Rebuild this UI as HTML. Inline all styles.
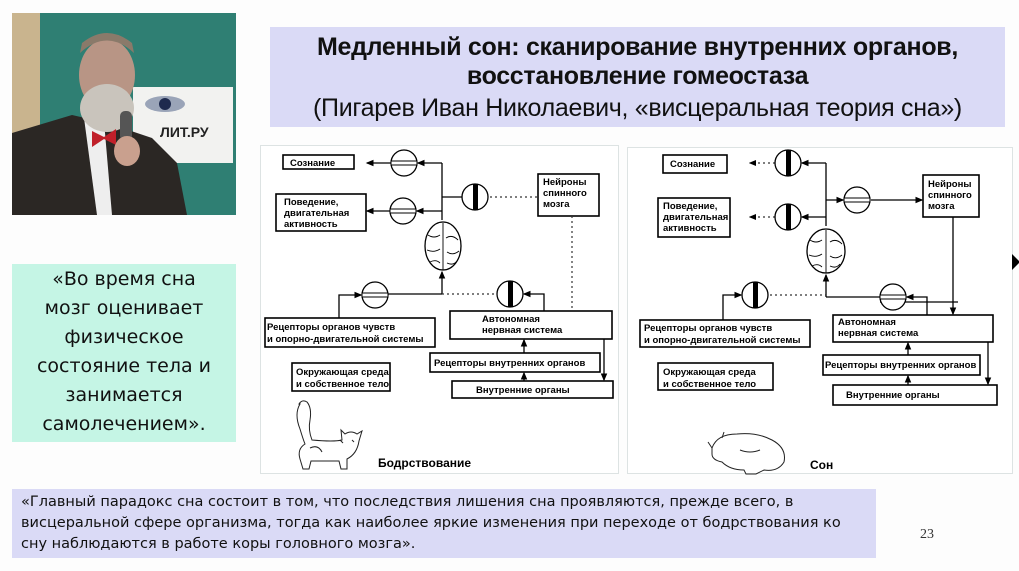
<!DOCTYPE html>
<html><head><meta charset="utf-8"><style>
body{margin:0;width:1019px;height:571px;background:#fff;position:relative;overflow:hidden;font-family:"Liberation Sans",sans-serif}
.a{position:absolute}
</style></head><body>
<div class="a" style="left:0;top:0;width:1019px;height:571px;background:#fdfdfd"></div>
<svg class="a" style="left:12px;top:13px" width="224" height="202">
<rect width="224" height="202" fill="#2f7f73"/>
<rect width="28" height="202" fill="#c9b48e"/>
<rect x="121" y="74" width="100" height="76" fill="#f2f2f0"/>
<ellipse cx="153" cy="91" rx="20" ry="8" fill="#9aa4b8"/><circle cx="153" cy="91" r="6" fill="#1e2a4e"/>
<text x="148" y="124" font-size="14" font-weight="bold" fill="#222">ЛИТ.РУ</text>
<path d="M0 120 L60 102 L95 110 L140 125 L165 150 L175 202 L0 202Z" fill="#2b2724"/>
<path d="M72 105 L92 108 L100 202 L85 202Z" fill="#eee"/>
<ellipse cx="95" cy="62" rx="28" ry="36" fill="#b89585"/>
<path d="M68 40 Q95 15 122 40 L120 30 Q95 10 70 30Z" fill="#8a7a6a"/>
<ellipse cx="95" cy="95" rx="27" ry="24" fill="#c9c4bc"/>
<path d="M80 118 L92 124 L104 116 L104 132 L92 126 L80 134Z" fill="#c0202a"/>
<rect x="108" y="98" width="12" height="30" rx="5" fill="#555"/>
<ellipse cx="115" cy="138" rx="13" ry="15" fill="#c9a08e"/>
</svg>
<div class="a" style="left:270px;top:27px;width:735px;height:100px;background:#dadaf6;text-align:center;color:#111">
<div style="font-weight:bold;font-size:25px;line-height:29px;margin-top:6px;letter-spacing:-0.3px">Медленный сон: сканирование внутренних органов,<br>восстановление гомеостаза</div>
<div style="font-size:25px;line-height:30px;margin-top:2px;letter-spacing:-0.3px">(Пигарев Иван Николаевич, «висцеральная теория сна»)</div>
</div>
<div class="a" style="left:12px;top:264px;width:224px;height:177px;background:#c5f5e5;text-align:center;font-family:'DejaVu Sans',sans-serif;font-size:19px;line-height:29px;color:#111;padding-top:1px">«Во время сна<br>мозг оценивает<br>физическое<br>состояние тела и<br>занимается<br>самолечением».</div>
<div class="a" style="left:12px;top:489px;width:864px;height:69px;background:#dadaf6;font-family:'DejaVu Sans',sans-serif;font-size:14.5px;line-height:21px;color:#111;padding:3px 0 0 9px;box-sizing:border-box">«Главный парадокс сна состоит в том, что последствия лишения сна проявляются, прежде всего, в<br>висцеральной сфере организма, тогда как наиболее яркие изменения при переходе от бодрствования ко<br>сну наблюдаются в работе коры головного мозга».</div>
<div class="a" style="left:920px;top:527px;font-family:'Liberation Serif',serif;font-size:14px;color:#333">23</div>
<svg class="a" style="left:0;top:0" width="1019" height="571" font-family="Liberation Sans" font-weight="bold" font-size="9.5">
<defs><marker id="ar" markerWidth="6" markerHeight="6" refX="5" refY="3" orient="auto"><path d="M0 0.5 L6 3 L0 5.5Z" fill="#000"/></marker></defs>
<rect x="260.5" y="145.5" width="358" height="328" fill="#fff" stroke="#dde3e3"/>
<rect x="627.5" y="147.5" width="385" height="326" fill="#fff" stroke="#dde3e3"/>
<g fill="#fff" stroke="#000" stroke-width="1.6">
<rect x="283" y="155" width="71" height="14"/><rect x="276" y="194" width="90" height="37"/>
<rect x="538" y="174" width="61" height="42"/><rect x="265" y="318" width="170" height="29"/>
<rect x="450" y="311" width="162" height="28"/><rect x="430" y="353" width="170" height="19"/>
<rect x="452" y="381" width="161" height="17"/><rect x="292" y="363" width="98" height="28"/>
<rect x="663" y="155" width="64" height="18"/><rect x="658" y="198" width="72" height="39"/>
<rect x="923" y="175" width="56" height="42"/><rect x="640" y="320" width="170" height="27"/>
<rect x="833" y="315" width="160" height="27"/><rect x="823" y="355" width="157" height="20"/>
<rect x="833" y="385" width="164" height="20"/><rect x="658" y="363" width="115" height="27"/>
</g>
<g fill="#000">
<text x="290" y="166">Сознание</text>
<text x="284" y="205">Поведение,</text><text x="284" y="216">двигательная</text><text x="284" y="227">активность</text>
<text x="543" y="185">Нейроны</text><text x="543" y="196">спинного</text><text x="543" y="207">мозга</text>
<text x="267" y="330">Рецепторы органов чувств</text><text x="267" y="342">и опорно-двигательной системы</text>
<text x="482" y="322">Автономная</text><text x="482" y="333">нервная система</text>
<text x="434" y="366">Рецепторы внутренних органов</text>
<text x="476" y="393">Внутренние органы</text>
<text x="296" y="375">Окружающая среда</text><text x="296" y="387">и собственное тело</text>
<text x="378" y="467" font-size="12">Бодрствование</text>
<text x="670" y="167">Сознание</text>
<text x="663" y="209">Поведение,</text><text x="663" y="220">двигательная</text><text x="663" y="231">активность</text>
<text x="928" y="187">Нейроны</text><text x="928" y="198">спинного</text><text x="928" y="209">мозга</text>
<text x="644" y="331">Рецепторы органов чувств</text><text x="644" y="343">и опорно-двигательной системы</text>
<text x="838" y="325">Автономная</text><text x="838" y="336">нервная система</text>
<text x="825" y="368">Рецепторы внутренних органов</text>
<text x="846" y="398">Внутренние органы</text>
<text x="663" y="375">Окружающая среда</text><text x="663" y="387">и собственное тело</text>
<text x="810" y="469" font-size="12">Сон</text>
</g>
<g fill="none" stroke="#000" stroke-width="1.3">
<path d="M442 163 H418" marker-end="url(#ar)"/><path d="M391 163 H367" marker-end="url(#ar)"/>
<path d="M442 163 V220"/><path d="M442 197 H462"/>
<path d="M442 211 H417" marker-end="url(#ar)"/><path d="M390 211 H367" marker-end="url(#ar)"/>
<path d="M442 294 V272" marker-end="url(#ar)"/><path d="M388 294 H442"/>
<path d="M339 318 V295 H361" marker-end="url(#ar)"/>
<path d="M544 311 V294 H524" marker-end="url(#ar)"/>
<path d="M604 339 V380" marker-end="url(#ar)"/>
<path d="M524 353 V340" marker-end="url(#ar)"/><path d="M524 381 V373" marker-end="url(#ar)"/>
<path d="M826 163 H802" marker-end="url(#ar)"/><path d="M826 163 V226"/>
<path d="M826 200 H843" marker-end="url(#ar)"/><path d="M871 200 H922" marker-end="url(#ar)"/>
<path d="M826 217 H802" marker-end="url(#ar)"/>
<path d="M826 297 V275" marker-end="url(#ar)"/><path d="M880 297 H826"/>
<path d="M927 315 V297 H907" marker-end="url(#ar)"/>
<path d="M880 302 H958"/><path d="M953 217 V314" marker-end="url(#ar)"/>
<path d="M723 320 V295 H741" marker-end="url(#ar)"/>
<path d="M988 342 V384" marker-end="url(#ar)"/>
<path d="M908 355 V343" marker-end="url(#ar)"/><path d="M908 385 V376" marker-end="url(#ar)"/>
</g>
<g fill="none" stroke="#333" stroke-width="1.2" stroke-dasharray="2,3">
<path d="M490 197 H538"/><path d="M572 216 V311"/><path d="M442 294 H497"/>
<path d="M775 163 H750" marker-end="url(#ar)"/><path d="M775 217 H750" marker-end="url(#ar)"/>
<path d="M770 295 H826"/>
</g>
<g stroke="#000" stroke-width="1.3" fill="#fff">
<circle cx="404" cy="163" r="13"/><circle cx="403" cy="211" r="13"/><circle cx="375" cy="295" r="13"/><circle cx="857" cy="200" r="13"/><circle cx="893" cy="297" r="13"/>
<circle cx="475" cy="197" r="13"/><circle cx="510" cy="294" r="13"/><circle cx="788" cy="163" r="13"/><circle cx="788" cy="217" r="13"/><circle cx="755" cy="295" r="13"/>
</g>
<g stroke="#000" stroke-width="1">
<rect x="391" y="161" width="26" height="4" fill="#fff"/><rect x="390" y="209" width="26" height="4" fill="#fff"/><rect x="362" y="293" width="26" height="4" fill="#fff"/><rect x="844" y="198" width="26" height="4" fill="#fff"/><rect x="880" y="295" width="26" height="4" fill="#fff"/>
</g>
<g fill="#000"><rect x="473" y="184" width="5" height="26"/><rect x="508" y="281" width="5" height="26"/><rect x="786" y="150" width="5" height="26"/><rect x="786" y="204" width="5" height="26"/><rect x="753" y="282" width="5" height="26"/></g>
<g fill="#fff" stroke="#000" stroke-width="1.3">
<ellipse cx="443" cy="246" rx="18" ry="24"/><ellipse cx="826" cy="251" rx="19" ry="22"/>
</g>
<g fill="none" stroke="#000" stroke-width="0.9">
<path d="M443 223 V270 M428 235 q6 4 12 0 M446 238 q6 -4 12 2 M427 250 q7 3 13 -1 M447 252 q6 4 12 -1 M430 262 q6 -3 10 1 M447 263 q6 3 10 -2"/>
<path d="M826 230 V273 M810 240 q6 4 12 0 M830 242 q6 -4 12 2 M809 255 q7 3 13 -1 M830 256 q6 4 12 -1 M812 266 q6 -3 10 1 M830 266 q6 3 10 -2"/>
</g>
<g fill="none" stroke="#222" stroke-width="1">
<path d="M300 404 q-6 10 0 25 q3 10 5 15 q-8 5 -5 15 l3 10 h6 l2 -8 h28 l2 8 h6 v-10 q10 -5 12 -18 l3 -10 l-5 3 q-6 -4 -12 0 l-4 -4 l1 10 q-8 2 -30 0 q-4 -10 -2 -20 q2 -12 -3 -18 q-5 -3 -8 2z"/>
<path d="M310 448 q8 -4 12 4 M340 440 l3 3 M352 440 l2 2"/>
<path d="M712 448 q5 -14 25 -14 q20 -2 35 6 q15 8 12 22 q-6 10 -20 8 l-8 4 h-10 l-2 -4 q-14 0 -22 -8 q-10 -2 -10 -8z"/>
<path d="M712 448 l-4 -6 M722 438 l2 -6 M740 450 q10 4 20 0"/>
</g>
<path d="M1012 254 l8 8 l-8 8z" fill="#000"/>
</svg>
</body></html>
